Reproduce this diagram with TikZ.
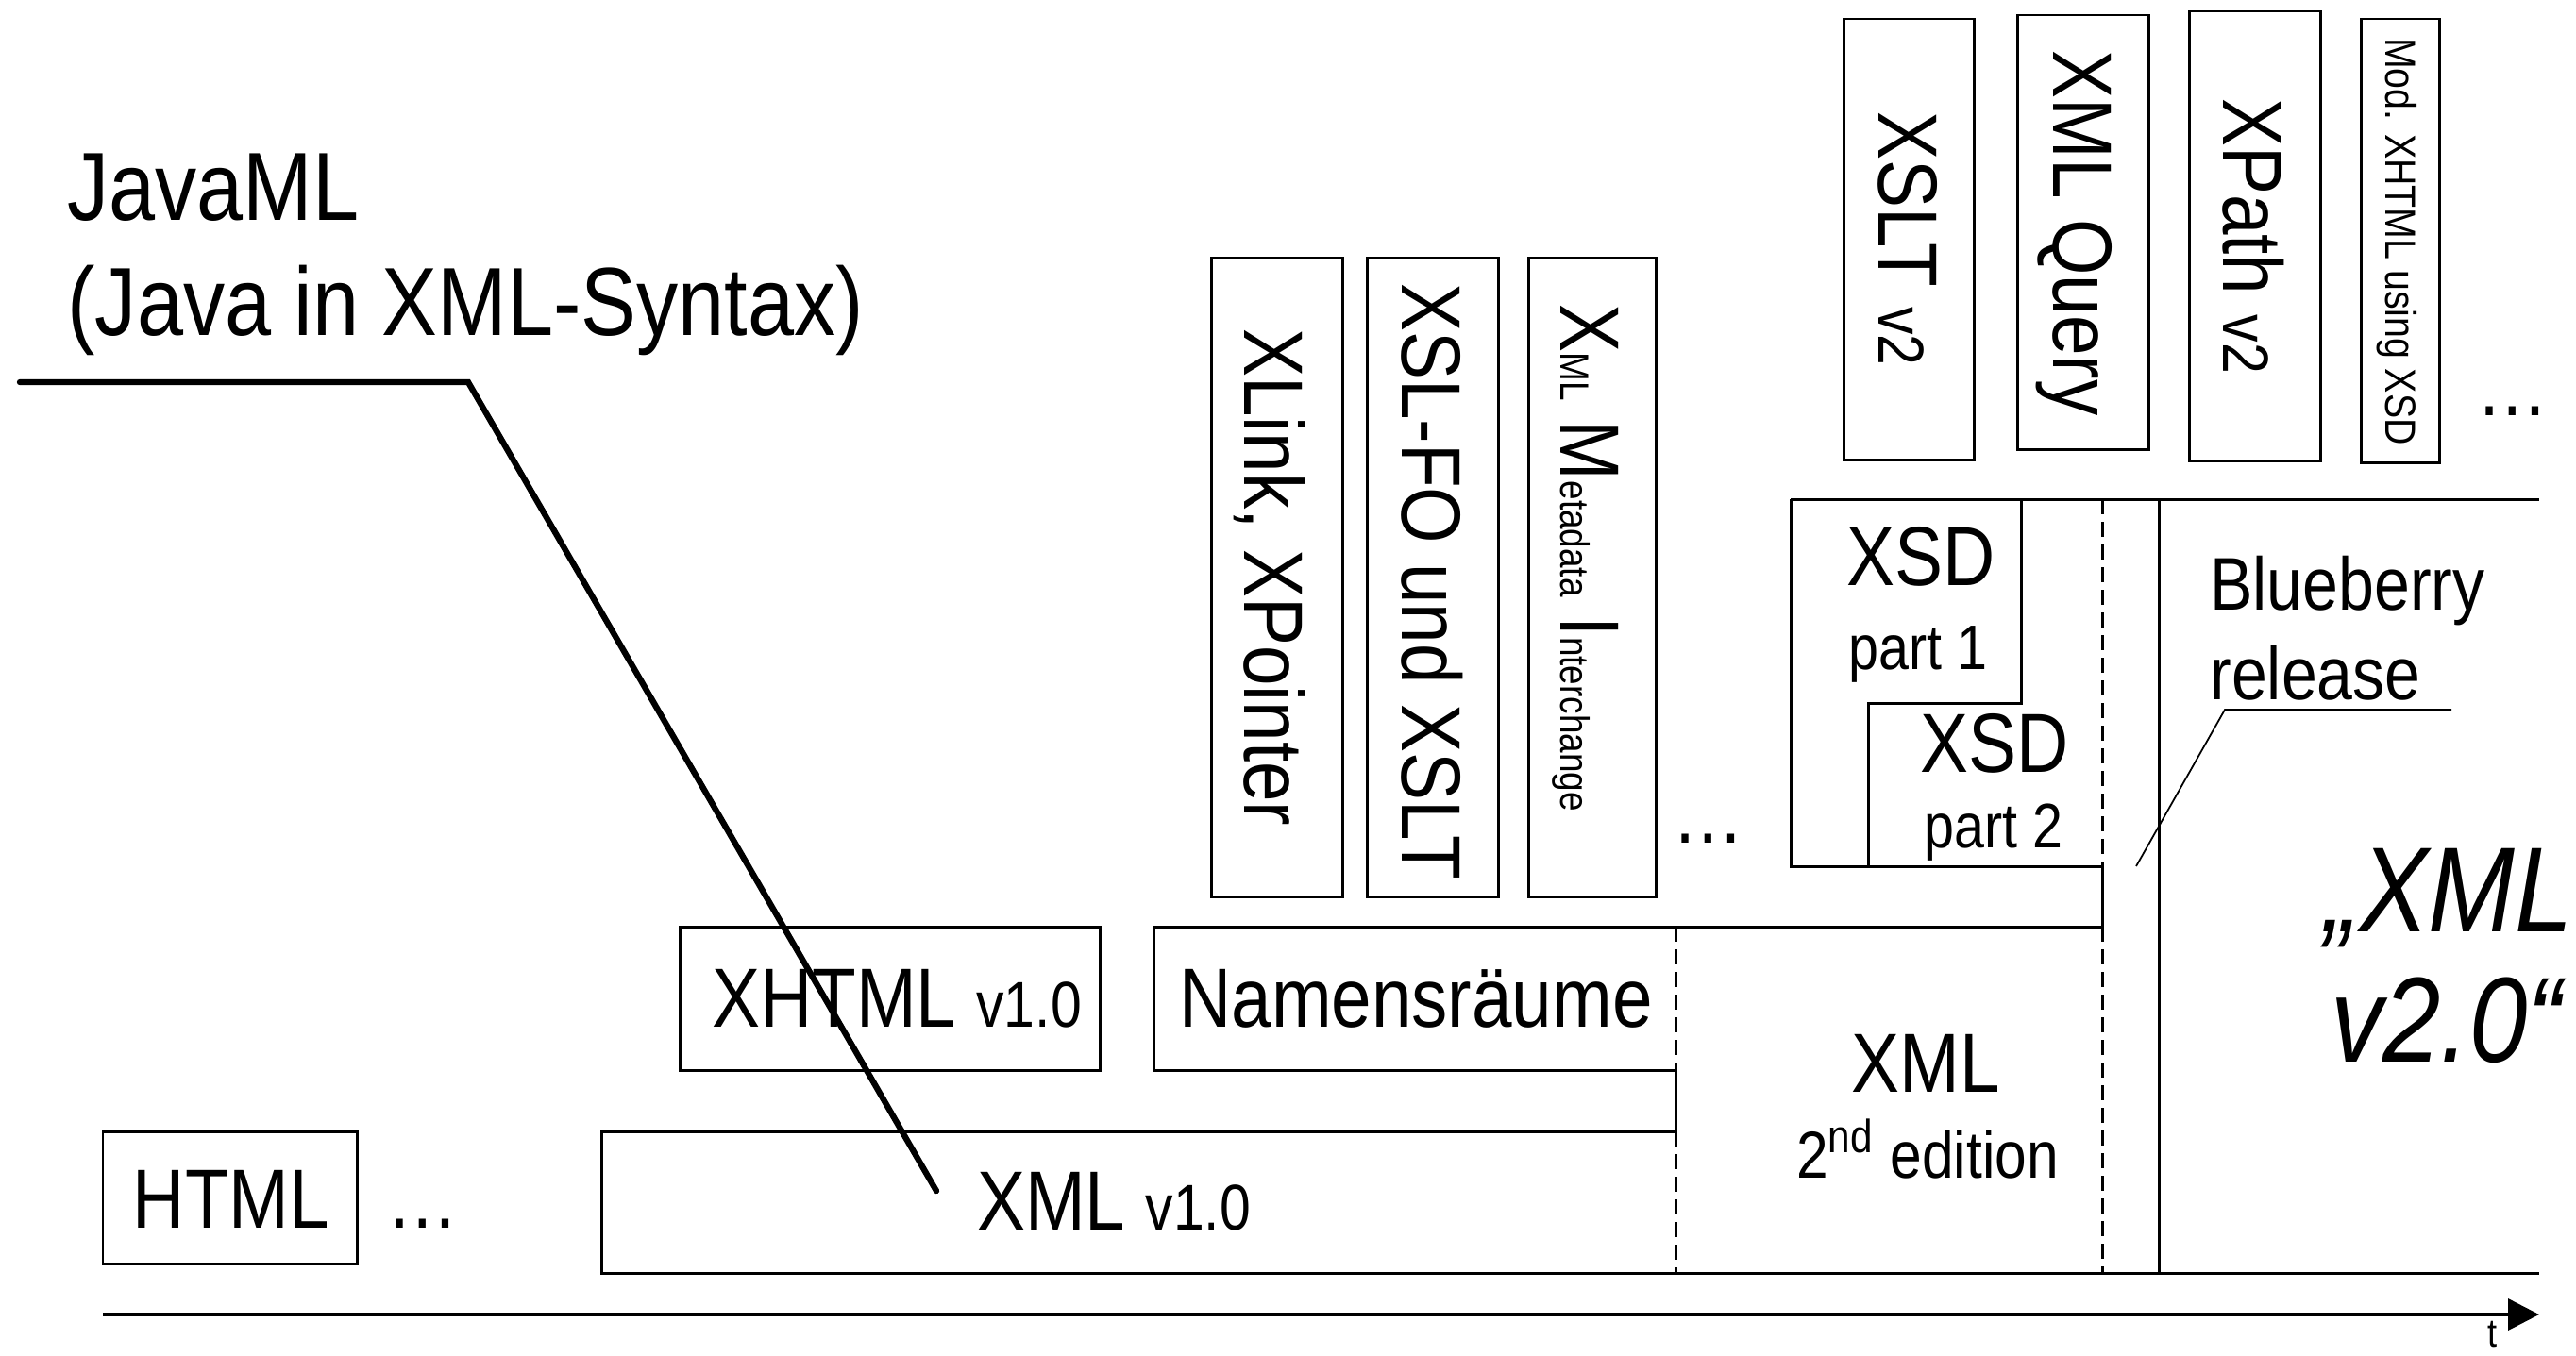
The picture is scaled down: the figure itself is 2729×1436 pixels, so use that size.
\documentclass[tikz,border=0pt]{standalone}
\usepackage{fontspec}
\setmainfont{Liberation Sans}[FakeStretch=0.86]
\usetikzlibrary{arrows.meta}
\newcommand\vsm[1]{{\fontsize{19.5}{22}\selectfont #1}}
\newcommand\xsm[1]{{\fontsize{12.2}{14}\selectfont #1}}
\begin{document}
\begin{tikzpicture}[x=0.1mm, y=-0.1mm, line width=0.85pt,
  txt/.style={anchor=base, inner sep=0pt, font=\fontsize{25.3}{30}\selectfont},
  vtxt/.style={txt, rotate=-90},
  dashln/.style={dash pattern=on 1.6mm off 0.8mm},
  lead/.style={line width=1.8pt, line cap=round},
  hint/.style={line width=0.5pt}]
  \useasboundingbox (0,0) rectangle (2729,1436);

  % time axis
  \coordinate (t0) at (109,1393);
  \coordinate (t1) at (2690,1393);
  \draw[-{Triangle[length=3.3mm,width=3.3mm]}, line width=1pt] (t0) -- (t1);
  \node[txt, font=\fontsize{12}{14}\selectfont] (tlab) at (2640,1427) {t};

  % HTML, XML v1.0, XHTML, Namensraeume
  \draw (109,1199) rectangle (378,1339);
  \node[txt] (html) at (245,1301) {HTML};
  \node[txt, anchor=base west] (hdots) at (408,1301) {\dots};
  \draw (1775,1199) -- (637,1199) -- (637,1349) -- (2690,1349);
  \node[txt] (xml1) at (1180,1303) {XML \vsm{v1.0}};
  \draw (720,982) rectangle (1165,1134);
  \node[txt] (xhtml) at (950,1088) {XHTML \vsm{v1.0}};
  \draw (1775,1134) -- (1222,1134) -- (1222,982) -- (2227,982);
  \node[txt] (ns) at (1500,1088) {Namensräume};
  \draw[dashln] (1775,982) -- (1775,1134) (1775,1199) -- (1775,1349);
  \draw (1775,1134) -- (1775,1199);
  \node[txt] (xml2) at (2040,1157) {XML};
  \node[txt, font=\fontsize{20}{23}\selectfont] (ed2) at (2042,1248) {2\textsuperscript{nd} edition};

  % upright boxes
  \foreach \xl/\xr/\yt/\yb/\bx/\by/\nm/\lab in {
      1283/1422/273/950/1318/612/xlink/{XLink, XPointer},
      1448/1587/273/950/1485/616/xslfo/{XSL-FO und XSLT},
      1619/1754/273/950/1653/591/xmi/{X\xsm{ML} M\xsm{etadata} I\xsm{nterchange}},
      1953/2091/20/487/1990/253/xslt/{XSLT \vsm{v2}},
      2137/2276/16/476/2175/247/xquery/{XML Query},
      2319/2458/12/488/2355/250/xpath/{XPath \vsm{v2}},
      2501/2584/20/490/2527/256/modx/{\fontsize{13}{15}\selectfont Mod. XHTML using XSD}}
  {
    \draw (\xl,\yt) rectangle (\xr,\yb);
    \node[vtxt] (\nm) at (\bx,\by) {\lab};
  }
  \node[txt, anchor=base west] (vdots1) at (1770,893) {\dots};
  \node[txt, anchor=base west] (vdots2) at (2622,440) {\dots};

  % XSD parts
  \draw (1897,529) -- (2690,529);
  \draw (1897,529) -- (1897,918) -- (2227,918);
  \draw (2141,529) -- (2141,745) -- (1979,745) -- (1979,918);
  \draw[dashln] (2227,529) -- (2227,918) (2227,982) -- (2227,1349);
  \draw (2227,918) -- (2227,982);
  \draw (2287,529) -- (2287,1349);
  \node[txt] (xsd1) at (2035,620) {XSD};
  \node[txt, font=\fontsize{19}{22}\selectfont] (part1) at (2032,709) {part 1};
  \node[txt] (xsd2) at (2113,818) {XSD};
  \node[txt, font=\fontsize{19}{22}\selectfont] (part2) at (2112,898) {part 2};

  % Blueberry
  \node[txt, anchor=base west, font=\fontsize{22.5}{26}\selectfont] (blue1) at (2340,646) {Blueberry};
  \node[txt, anchor=base west, font=\fontsize{22.5}{26}\selectfont] (blue2) at (2340,741) {release};
  \coordinate (bb0) at (2597,752);
  \coordinate (bb1) at (2357,752);
  \coordinate (bb2) at (2263,918);
  \draw[hint] (bb0) -- (bb1) -- (bb2);

  % XML 2.0
  \node[txt, anchor=base west, font=\itshape\fontsize{36.5}{40}\selectfont] (xv2a) at (2461,987) {„XML};
  \node[txt, font=\itshape\fontsize{36.5}{40}\selectfont] (xv2b) at (2592,1125) {v2.0“};

  % JavaML
  \node[txt, anchor=base west, font=\fontsize{29.2}{34}\selectfont] (java1) at (70,233) {JavaML};
  \node[txt, anchor=base west, font=\fontsize{29.2}{34}\selectfont] (java2) at (70,355) {(Java in XML-Syntax)};
  \coordinate (jv0) at (21,405);
  \coordinate (jv1) at (496,405);
  \coordinate (jv2) at (992,1262);
  \draw[lead] (jv0) -- (jv1) -- (jv2);
\end{tikzpicture}
\end{document}
